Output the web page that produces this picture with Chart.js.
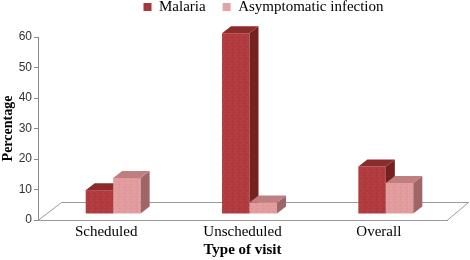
<!DOCTYPE html>
<html><head><meta charset="utf-8">
<script src="https://cdn.jsdelivr.net/npm/chart.js@4/dist/chart.umd.min.js"></script>
<style>html,body{margin:0;padding:0;background:#fff;overflow:hidden;}</style>
</head><body>
<canvas id="c" width="470" height="260" style="display:block;width:470px;height:260px"></canvas>
<script>
// ---- data ----
const categories = ['Scheduled', 'Unscheduled', 'Overall'];
const seriesNames = ['Malaria', 'Asymptomatic infection'];
const malaria = [7.8, 59.3, 15.6];
const asymptomatic = [11.8, 3.8, 10.2];
const yTickStep = 10;
const yMax = 60;

// ---- styling ----
const FLOOR_DX = 23.5, FLOOR_DY = -18;
const BAR_SHIFT_X = 7, BAR_SHIFT_Y = -6;
const DEPTH_DX = 9, DEPTH_DY = -7;
const faces = [
  {front: '#b13a3e', side: '#74211f', top: '#8b2b2c', legend: '#a9353a'},
  {front: '#e29c9e', side: '#9e6668', top: '#bf7e80', legend: '#e3a2a4'}
];

function speckle(color) {
  const c = document.createElement('canvas');
  c.width = 6; c.height = 6;
  const g = c.getContext('2d');
  g.fillStyle = color; g.fillRect(0, 0, 6, 6);
  const dots = [[0,0,.10],[3,1,-.08],[1,3,.08],[4,4,-.06],[2,5,.06],[5,2,.07]];
  dots.forEach(([x, y, a]) => {
    g.fillStyle = a > 0 ? 'rgba(255,255,255,' + a + ')' : 'rgba(0,0,0,' + (-a) + ')';
    g.fillRect(x, y, 1, 1);
  });
  return g.createPattern(c, 'repeat');
}

const threeD = {
  id: 'threeD',
  afterLayout(chart) {
    const lg = chart.legend;
    if (lg) {
      const pad = lg.options.labels.padding;
      lg.left = 143.5 - pad;
      lg.right = 470;
      lg.top = -17.5;
    }
  },
  beforeDatasetsDraw(chart) {
    const {ctx, chartArea: a} = chart;
    ctx.save();
    ctx.beginPath();
    ctx.moveTo(a.left, a.bottom + 0.5);
    ctx.lineTo(a.left + FLOOR_DX, a.bottom + FLOOR_DY + 0.5);
    ctx.lineTo(a.right + FLOOR_DX - 2, a.bottom + FLOOR_DY + 0.5);
    ctx.lineTo(a.right, a.bottom + 0.5);
    ctx.strokeStyle = '#9a9a9a';
    ctx.lineWidth = 1;
    ctx.stroke();
    ctx.restore();
  },
  beforeDatasetDraw() { return false; },
  afterDatasetsDraw(chart) {
    const ctx = chart.ctx;
    ctx.save();
    ctx.translate(BAR_SHIFT_X, BAR_SHIFT_Y);
    const metas = chart.data.datasets.map((d, i) => chart.getDatasetMeta(i));
    categories.forEach((_, j) => {
      metas.forEach((meta, i) => {
        const bar = meta.data[j];
        const f = faces[i];
        bar.draw(ctx);
        const {x, y, base, width} = bar.getProps(['x', 'y', 'base', 'width'], true);
        const l = x - width / 2, r = x + width / 2;
        ctx.beginPath();
        ctx.moveTo(r, y); ctx.lineTo(r + DEPTH_DX, y + DEPTH_DY);
        ctx.lineTo(r + DEPTH_DX, base + DEPTH_DY); ctx.lineTo(r, base);
        ctx.closePath(); ctx.fillStyle = f.side; ctx.fill();
        ctx.beginPath();
        ctx.moveTo(l, y); ctx.lineTo(l + DEPTH_DX, y + DEPTH_DY);
        ctx.lineTo(r + DEPTH_DX, y + DEPTH_DY); ctx.lineTo(r, y);
        ctx.closePath(); ctx.fillStyle = f.top; ctx.fill();
      });
    });
    ctx.restore();
  }
};

const serif = "'Liberation Serif', 'Times New Roman', serif";
const sans = "'Liberation Sans', Arial, sans-serif";

new Chart(document.getElementById('c'), {
  type: 'bar',
  data: {
    labels: categories,
    datasets: [
      {label: seriesNames[0], data: malaria, backgroundColor: speckle(faces[0].front), borderWidth: 0, clip: false},
      {label: seriesNames[1], data: asymptomatic, backgroundColor: speckle(faces[1].front), borderWidth: 0, clip: false}
    ]
  },
  options: {
    responsive: false,
    animation: false,
    devicePixelRatio: 1,
    layout: {padding: {left: 0, right: 23, top: 0, bottom: 0}},
    datasets: {bar: {categoryPercentage: 0.403, barPercentage: 1}},
    plugins: {
      tooltip: {enabled: false},
      legend: {
        position: 'top',
        align: 'start',
        maxHeight: 37,
        labels: {
          boxWidth: 8, boxHeight: 8, padding: 17, color: '#000',
          font: {family: serif, size: 15},
          generateLabels(chart) {
            return Chart.defaults.plugins.legend.labels.generateLabels(chart).map((it, i) => {
              it.fillStyle = faces[it.datasetIndex].legend;
              it.strokeStyle = 'rgba(0,0,0,0)';
              it.lineWidth = 0;
              return it;
            });
          }
        }
      }
    },
    scales: {
      x: {
        ticks: {color: '#000', font: {family: serif, size: 15}, padding: 3},
        grid: {display: false, drawTicks: false},
        border: {display: true, color: '#9a9a9a'},
        title: {display: true, text: 'Type of visit', color: '#000',
                font: {family: serif, size: 15, weight: 'bold'}, padding: {top: 0, bottom: 1}},
        afterFit(s) { s.height = 40; }
      },
      y: {
        min: 0, max: yMax,
        ticks: {stepSize: yTickStep, color: '#333', font: {family: sans, size: 12}, padding: 2},
        grid: {drawOnChartArea: false, drawTicks: true, tickLength: 4, color: '#8a8a8a'},
        border: {display: true, color: '#8a8a8a'},
        title: {display: true, text: 'Percentage', color: '#000',
                font: {family: serif, size: 14, weight: 'bold'}, padding: {top: 0, bottom: 0}},
        afterFit(s) { s.width = 38; }
      }
    }
  },
  plugins: [threeD]
});
</script>
</body></html>
